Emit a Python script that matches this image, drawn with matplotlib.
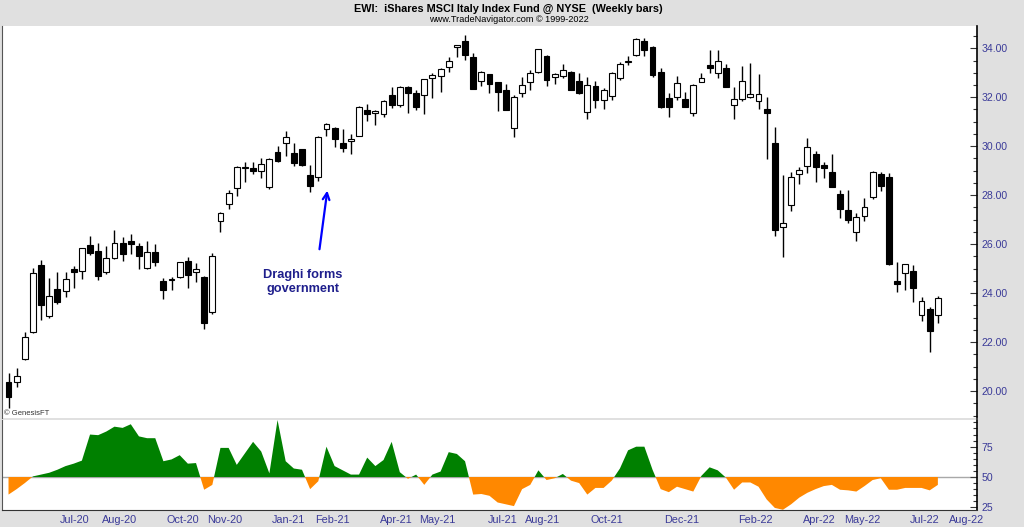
import numpy as np
import pandas as pd
import matplotlib
matplotlib.use("Agg")
import matplotlib.pyplot as plt
from matplotlib.ticker import MultipleLocator, FormatStrFormatter, FixedLocator

plt.rcParams['font.family'] = ['Liberation Sans', 'DejaVu Sans']

# ---------------- data ----------------
first_week = "2020-05-11"

opens = [20.36, 20.37, 21.31, 22.40, 25.15, 23.08, 24.15, 24.10, 24.98, 24.92,
         25.96, 25.73, 24.88, 25.42, 26.03, 26.13, 25.94, 25.01, 25.69, 24.49,
         24.52, 24.65, 25.31, 24.86, 24.67, 23.23, 26.96, 27.64, 28.28, 29.10,
         29.13, 29.00, 28.32, 29.78, 30.12, 29.74, 29.87, 28.83, 28.73, 30.72,
         30.73, 30.15, 30.22, 30.42, 31.48, 31.37, 31.32, 32.09, 31.69, 32.41,
         32.19, 32.09, 32.80, 32.87, 33.22, 34.04, 34.30, 33.66, 32.67, 32.94,
         32.61, 32.30, 30.76, 32.16, 32.64, 33.05, 33.69, 32.82, 32.87, 33.03,
         32.68, 31.41, 32.46, 31.89, 32.05, 32.78, 33.46, 33.73, 34.31, 34.07,
         33.05, 31.96, 31.99, 31.92, 31.35, 32.64, 33.32, 32.98, 33.18, 31.69,
         31.93, 32.03, 31.86, 31.52, 30.12, 26.72, 27.60, 28.87, 29.19, 29.68,
         29.24, 28.96, 28.04, 27.39, 26.51, 27.15, 27.91, 28.85, 28.75, 24.50,
         24.83, 24.90, 23.10, 23.37, 23.10]
highs = [20.75, 20.93, 22.40, 25.01, 25.35, 24.60, 24.85, 24.85, 25.12, 25.85,
         26.33, 26.03, 25.94, 26.58, 26.31, 26.40, 26.06, 26.14, 25.99, 24.60,
         24.67, 25.28, 25.46, 25.22, 24.70, 25.65, 27.33, 28.21, 29.19, 29.37,
         29.37, 29.53, 29.50, 30.01, 30.64, 30.12, 29.90, 29.23, 30.42, 30.93,
         30.80, 30.69, 30.50, 31.64, 31.73, 31.47, 31.87, 32.41, 32.46, 32.44,
         32.30, 32.75, 32.98, 33.18, 33.63, 34.13, 34.53, 33.82, 33.07, 32.96,
         32.63, 32.53, 32.10, 32.82, 33.12, 33.98, 33.73, 32.98, 33.36, 33.08,
         32.98, 32.82, 32.68, 32.37, 33.05, 33.46, 33.69, 34.41, 34.41, 34.10,
         33.18, 32.16, 32.88, 32.23, 32.54, 32.98, 33.91, 33.93, 33.36, 32.41,
         33.28, 33.39, 32.95, 32.00, 30.80, 28.83, 28.96, 29.14, 30.32, 29.82,
         29.37, 29.68, 28.23, 28.23, 27.28, 27.87, 28.98, 28.93, 28.92, 25.28,
         25.18, 25.14, 23.85, 23.44, 23.88]
lows = [19.32, 20.15, 21.27, 22.36, 22.90, 22.97, 23.55, 23.83, 24.22, 24.56,
        25.57, 24.54, 24.78, 25.40, 25.32, 25.60, 24.98, 24.97, 25.11, 23.77,
        24.13, 24.62, 24.22, 24.47, 22.55, 23.15, 26.51, 27.42, 27.98, 28.55,
        28.87, 28.69, 28.24, 29.37, 29.60, 29.19, 29.21, 28.15, 28.58, 30.42,
        29.96, 29.78, 29.69, 30.40, 31.01, 30.87, 31.21, 31.55, 31.59, 31.35,
        31.48, 31.32, 31.96, 32.23, 33.05, 33.63, 33.52, 32.33, 32.46, 32.19,
        31.44, 31.46, 30.37, 32.00, 32.30, 33.01, 32.46, 32.54, 32.78, 32.28,
        32.14, 31.10, 31.55, 31.51, 31.89, 32.71, 33.32, 33.69, 33.69, 32.82,
        31.55, 31.18, 31.89, 31.60, 31.24, 32.62, 32.98, 32.78, 32.40, 31.10,
        31.86, 31.96, 31.51, 29.47, 26.34, 25.49, 27.37, 28.46, 28.92, 28.55,
        28.69, 28.32, 27.05, 26.85, 26.14, 26.95, 27.83, 28.18, 25.14, 24.05,
        24.12, 23.65, 22.87, 21.60, 22.79]
closes = [19.74, 20.61, 22.22, 24.82, 23.51, 23.88, 23.62, 24.56, 24.86, 25.83,
          25.62, 24.71, 25.43, 26.03, 25.60, 26.01, 25.52, 25.68, 25.28, 24.13,
          24.58, 25.26, 24.76, 24.97, 22.79, 25.53, 27.26, 28.10, 29.14, 29.15,
          29.00, 29.28, 29.47, 29.41, 30.39, 29.30, 29.23, 28.38, 30.39, 30.91,
          30.28, 29.92, 30.28, 31.62, 31.32, 31.45, 31.85, 31.69, 32.41, 32.19,
          31.59, 32.73, 32.91, 33.14, 33.50, 34.12, 33.72, 32.35, 33.05, 32.53,
          32.20, 31.48, 32.03, 32.50, 33.01, 33.96, 32.71, 32.95, 33.12, 32.30,
          32.19, 32.50, 31.89, 32.30, 33.01, 33.36, 33.50, 34.38, 33.93, 32.91,
          31.62, 31.59, 32.57, 31.62, 32.48, 32.80, 33.21, 33.50, 32.41, 31.93,
          32.68, 32.14, 32.14, 31.37, 26.58, 26.88, 28.73, 29.03, 29.98, 29.14,
          29.10, 28.34, 27.43, 26.98, 27.09, 27.53, 28.96, 28.37, 25.21, 24.39,
          25.17, 24.22, 23.69, 22.46, 23.82]

oscillator = [35.5, 40.0, 45.0, 50.5, 52.0, 53.5, 56.0, 59.0, 61.0, 63.5,
              85.0, 84.5, 87.5, 91.5, 90.5, 93.5, 83.5, 82.0, 82.0, 63.0,
              64.5, 68.0, 61.0, 61.5, 39.5, 43.5, 74.0, 74.0, 60.0, 69.5,
              79.0, 71.0, 53.0, 97.0, 63.0, 57.0, 56.0, 40.0, 46.5, 75.0,
              59.0, 55.5, 52.0, 52.0, 66.0, 59.0, 64.0, 79.0, 54.0, 48.5,
              52.0, 43.5, 52.0, 54.5, 70.5, 69.0, 63.0, 35.5, 36.0, 34.5,
              29.0, 27.5, 26.0, 40.0, 43.5, 55.5, 47.5, 49.0, 52.5, 47.0,
              45.0, 35.5, 41.0, 41.0, 47.0, 57.0, 72.0, 75.0, 75.0, 56.0,
              40.0, 37.5, 42.0, 40.0, 38.0, 51.0, 58.0, 55.5, 49.5, 39.5,
              45.5, 45.5, 42.0, 31.5, 24.5, 23.0, 27.5, 33.0, 37.0, 40.0,
              42.5, 43.5, 39.5, 39.0, 38.0, 42.5, 47.5, 49.0, 39.5, 39.5,
              41.0, 41.0, 41.0, 39.0, 43.5]

month_labels = ["Jul-20", "Aug-20", "Oct-20", "Nov-20", "Jan-21", "Feb-21", "Apr-21",
                "May-21", "Jul-21", "Aug-21", "Oct-21", "Dec-21", "Feb-22", "Apr-22",
                "May-22", "Jul-22", "Aug-22"]
month_label_dates = ["2020-07-07", "2020-08-14", "2020-10-08", "2020-11-13", "2021-01-06",
                     "2021-02-13", "2021-04-09", "2021-05-14", "2021-07-09", "2021-08-13",
                     "2021-10-07", "2021-12-10", "2022-02-11", "2022-04-07", "2022-05-14",
                     "2022-07-07", "2022-08-12"]

title = "EWI:  iShares MSCI Italy Index Fund @ NYSE  (Weekly bars)"
subtitle = "www.TradeNavigator.com \u00a9 1999-2022"
note = "Draghi forms\ngovernment"

# ---------------- figure ----------------
W, H = 1024, 527
BG = '#e0e0e0'
LBL = '#3a3a98'
fig = plt.figure(figsize=(W / 100, H / 100), dpi=100, facecolor=BG)


def rect(l, t, r, b):
    return [l / W, 1 - b / H, (r - l) / W, (b - t) / H]


ax = fig.add_axes(rect(1.5, 26, 977, 418))
ax2 = fig.add_axes(rect(1.5, 420, 977, 510), sharex=ax)

o = np.array(opens); h = np.array(highs); l = np.array(lows); c = np.array(closes)
n = len(o)
x = np.arange(n)
up = c >= o
bottom = np.minimum(o, c)
height = np.maximum(np.abs(c - o), 0.03)

ax.vlines(x, l, h, color='black', linewidth=1.0, zorder=1)
ax.bar(x, height, bottom=bottom, width=0.72,
       color=np.where(up, 'white', 'black'), edgecolor='black', linewidth=0.8, zorder=2)

ax.set_xlim(-0.86, 118.8)
ax.set_ylim(18.90, 34.91)
ax.yaxis.tick_right()
ax.yaxis.set_major_locator(MultipleLocator(2))
ax.yaxis.set_minor_locator(MultipleLocator(0.5))
ax.yaxis.set_major_formatter(FormatStrFormatter('%.2f'))
ax.tick_params(axis='y', which='major', direction='in', length=5, width=0.8,
               color='#333333', labelcolor=LBL, labelsize=7.6, pad=3.5)
ax.tick_params(axis='y', which='minor', direction='in', length=3, width=0.8, color='#333333')
ax.tick_params(axis='x', which='both', bottom=False, labelbottom=False)
for s in ['top', 'bottom']:
    ax.spines[s].set_visible(False)
ax.spines['left'].set_color('#555555')
ax.spines['right'].set_color('black')
ax.spines['right'].set_linewidth(1.2)

# annotation
ax.annotate('', xy=(39.15, 28.3), xytext=(38.1, 25.68),
            arrowprops=dict(arrowstyle='->', color='#0000ff', lw=1.6, mutation_scale=12))
ax.text(36.1, 24.45, note, ha='center', va='center', color='#1e1e8c',
        fontsize=9.2, fontweight='bold', linespacing=1.25)
ax.text(0.003, 0.002, '\u00a9 GenesisFT', transform=ax.transAxes, fontsize=5.5,
        color='#333333', ha='left', va='bottom')

# lower panel
osc = np.array(oscillator)
ax2.fill_between(x, osc, 50, where=osc >= 50, interpolate=True, color='#008000', linewidth=0)
ax2.fill_between(x, osc, 50, where=osc <= 50, interpolate=True, color='#ff8800', linewidth=0)
ax2.axhline(50, color='#a8a8a8', linewidth=1.0, zorder=0)
ax2.set_ylim(22.8, 97.0)
ax2.yaxis.tick_right()
ax2.yaxis.set_major_locator(FixedLocator([25, 50, 75]))
ax2.yaxis.set_minor_locator(MultipleLocator(5))
ax2.tick_params(axis='y', which='major', direction='in', length=5, width=0.8,
                color='#333333', labelcolor=LBL, labelsize=7.6, pad=3.5)
ax2.tick_params(axis='y', which='minor', direction='in', length=3, width=0.8, color='#333333')

start = pd.Timestamp(first_week)
tick_pos = [(pd.Timestamp(d) - start).days / 7.0 for d in month_label_dates]
ax2.set_xticks(tick_pos)
ax2.set_xticklabels(month_labels)
ax2.tick_params(axis='x', which='both', length=0, pad=3.5, labelcolor=LBL, labelsize=7.8)
ax2.spines['top'].set_visible(False)
ax2.spines['left'].set_color('#555555')
ax2.spines['right'].set_color('black')
ax2.spines['right'].set_linewidth(1.2)
ax2.spines['bottom'].set_color('#333333')

# header
fig.text(508 / W, 1 - 8.5 / H, title, ha='center', va='center', fontsize=7.8,
         fontweight='bold',
         family=['Liberation Sans Narrow', 'Liberation Sans', 'DejaVu Sans'])
fig.text(509 / W, 1 - 20 / H, subtitle, ha='center', va='center', fontsize=6.6,
         family=['Liberation Sans Narrow', 'Liberation Sans', 'DejaVu Sans'])

fig.savefig('out.png', dpi=100, facecolor=BG)
